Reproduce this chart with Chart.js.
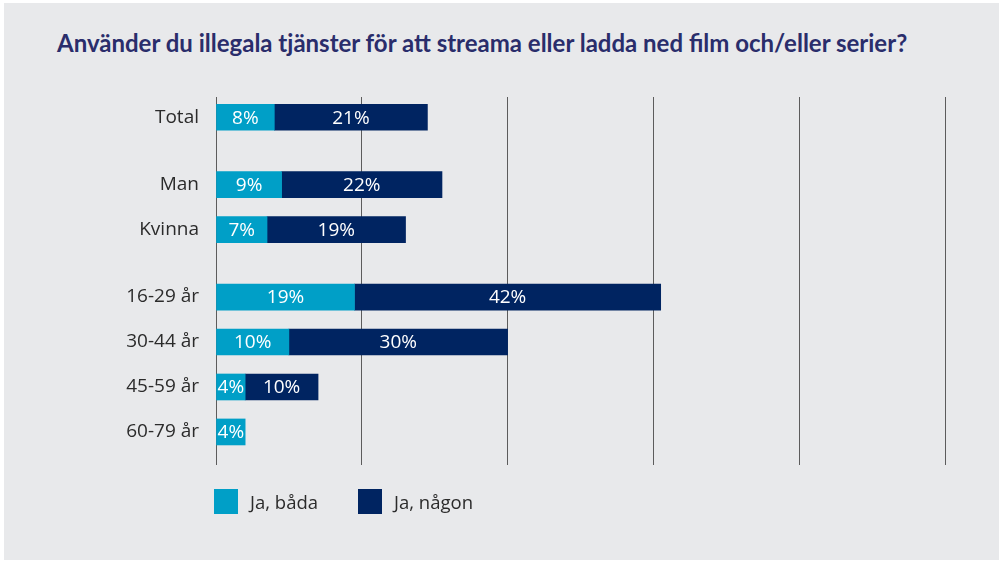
<!DOCTYPE html>
<html lang="sv">
<head>
<meta charset="utf-8">
<script src="https://cdn.jsdelivr.net/npm/chart.js@4/dist/chart.umd.min.js"></script>
<style>
    html, body { margin: 0; padding: 0; background: #fff; }
    .panel { position: absolute; left: 4px; top: 3px; width: 995px; height: 557px; background: #e8e9eb; }
    .title { position: absolute; left: 57px; top: 29px; margin: 0; font: 700 24px Lato, sans-serif; line-height: 28px; color: #2a2d6b; white-space: nowrap; }
    #wrap { position: absolute; left: 0; top: 0; width: 999px; height: 565px; }
    .legend { position: absolute; left: 214px; top: 489px; display: flex; font: 18.5px "Open Sans", sans-serif; color: #2b2b2b; }
    .legend .item { display: flex; align-items: center; width: 144px; }
    .legend .box { width: 24px; height: 25px; margin-right: 12px; }
</style>
</head>
<body>
<div class="panel"></div>
<h1 class="title">Använder du illegala tjänster för att streama eller ladda ned film och/eller serier?</h1>
<div id="wrap"><canvas id="chart" width="999" height="565"></canvas></div>
<div class="legend" id="legend"></div>
<script>
const categories = ['Total', 'Man', 'Kvinna', '16-29 år', '30-44 år', '45-59 år', '60-79 år'];
// which block each row belongs to (blocks are separated by an extra gap)
const groups = [0, 1, 1, 2, 2, 2, 2];
const jaBada = [8, 9, 7, 19, 10, 4, 4];
const jaNagon = [21, 22, 19, 42, 30, 10, null];
const xTicks = [0, 20, 40, 60, 80, 100];

const rowPos = categories.map((c, i) => i * 2 + groups[i]);

const toPoints = (values) => values.map((v, i) => ({ x: v, y: rowPos[i] }));

const datasets = [
    { label: 'Ja, båda', data: toPoints(jaBada), backgroundColor: '#009fc7' },
    { label: 'Ja, någon', data: toPoints(jaNagon), backgroundColor: '#002461' }
];

const barLabels = {
    id: 'barLabels',
    afterDatasetsDraw(chart) {
        const ctx = chart.ctx;
        ctx.save();
        ctx.font = '19px "Open Sans", sans-serif';
        ctx.fillStyle = '#fff';
        ctx.textAlign = 'center';
        ctx.textBaseline = 'middle';
        chart.data.datasets.forEach((ds, di) => {
            chart.getDatasetMeta(di).data.forEach((bar, i) => {
                const v = ds.data[i].x;
                if (!v) return;
                ctx.fillText(v + '%', (bar.x + bar.base) / 2, bar.y + 1);
            });
        });
        ctx.restore();
    }
};

new Chart(document.getElementById('chart'), {
    type: 'bar',
    data: { datasets },
    plugins: [barLabels],
    options: {
        indexAxis: 'y',
        responsive: false,
        animation: false,
        barThickness: 26,
        layout: { padding: { left: 0, right: 54, top: 97, bottom: 100 } },
        plugins: {
            legend: { display: false },
            tooltip: { enabled: false }
        },
        scales: {
            x: {
                stacked: true,
                min: xTicks[0],
                max: xTicks[xTicks.length - 1],
                afterBuildTicks: (scale) => { scale.ticks = xTicks.map(v => ({ value: v })); },
                ticks: { display: false },
                grid: { color: '#5c5c5c', lineWidth: 1, drawTicks: false },
                border: { display: false }
            },
            y: {
                type: 'linear',
                stacked: true,
                reverse: true,
                offset: false,
                min: -0.9,
                max: rowPos[rowPos.length - 1] + 1.47,
                afterBuildTicks: (scale) => { scale.ticks = rowPos.map(v => ({ value: v })); },
                afterFit: (scale) => { scale.width = 216; },
                ticks: {
                    padding: 17,
                    color: '#2b2b2b',
                    font: { family: '"Open Sans", sans-serif', size: 19 },
                    callback: (value) => categories[rowPos.indexOf(value)]
                },
                grid: { display: false, drawTicks: false, offset: false },
                border: { display: false }
            }
        }
    }
});

const legend = document.getElementById('legend');
datasets.forEach(ds => {
    const item = document.createElement('div');
    item.className = 'item';
    item.innerHTML = '<span class="box" style="background:' + ds.backgroundColor + '"></span><span>' + ds.label + '</span>';
    legend.appendChild(item);
});
</script>
</body>
</html>
